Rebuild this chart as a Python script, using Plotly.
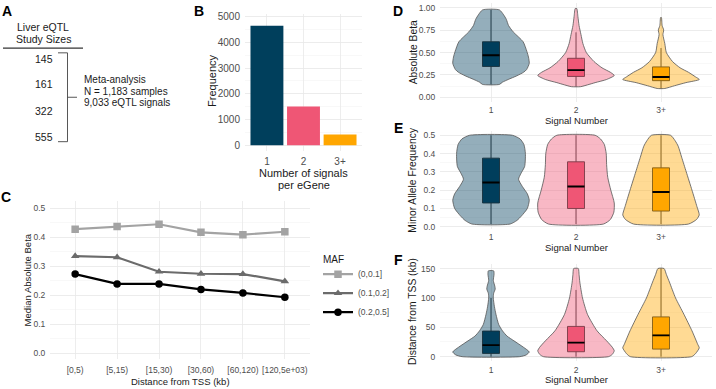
import plotly.graph_objects as go

W, H = 716, 389

# ---------------- data ----------------
# Panel A
study_sizes = ["145", "161", "322", "555"]
meta_lines = ["Meta-analysis", "N = 1,183 samples", "9,033 eQTL signals"]

# Panel B
signal_cats = ["1", "2", "3+"]
egene_counts = [4650, 1510, 410]
group_colors = ["#003f5c", "#ef5675", "#ffa600"]
group_fills = ["rgba(0,63,92,0.42)", "rgba(239,86,117,0.42)", "rgba(255,166,0,0.42)"]

# Panel C
tss_bins = ["[0,5)", "[5,15)", "[15,30)", "[30,60)", "[60,120)", "[120,5e+03)"]
maf_groups = ["(0,0.1]", "(0.1,0.2]", "(0.2,0.5]"]
beta_maf_low = [0.428, 0.437, 0.445, 0.417, 0.409, 0.419]
beta_maf_mid = [0.335, 0.331, 0.281, 0.274, 0.273, 0.248]
beta_maf_high = [0.273, 0.239, 0.239, 0.220, 0.208, 0.193]
maf_colors = ["#a3a3a3", "#6b6b6b", "#000000"]
maf_symbols = ["square", "triangle-up", "circle"]

# Panel D: absolute beta violin profiles (value levels, relative width)
beta_v1_y = [0.145, 0.17, 0.2, 0.24, 0.28, 0.31, 0.38, 0.45, 0.51, 0.62, 0.73, 0.8, 0.87, 0.92, 0.975]
beta_v1_w = [0.22, 0.3, 0.45, 0.67, 0.85, 0.93, 1.0, 0.98, 0.94, 0.84, 0.58, 0.46, 0.4, 0.33, 0.22]
beta_v2_y = [0.12, 0.14, 0.165, 0.2, 0.245, 0.28, 0.33, 0.4, 0.5, 0.6, 0.7, 0.8, 0.9, 0.99]
beta_v2_w = [0.12, 0.3, 0.5, 0.8, 1.0, 0.9, 0.68, 0.47, 0.27, 0.18, 0.13, 0.08, 0.05, 0.02]
beta_v3_y = [0.1, 0.13, 0.165, 0.2, 0.23, 0.28, 0.33, 0.4, 0.5, 0.6, 0.7, 0.75, 0.8, 0.89]
beta_v3_w = [0.1, 0.35, 0.65, 1.0, 0.9, 0.72, 0.5, 0.3, 0.14, 0.1, 0.05, 0.07, 0.03, 0.01]
beta_q1 = [0.345, 0.234, 0.187]
beta_med = [0.47, 0.304, 0.228]
beta_q3 = [0.62, 0.436, 0.34]
beta_lo = [0.145, 0.12, 0.1]
beta_hi = [0.975, 0.725, 0.55]

# Panel E: minor allele frequency
maf_v1_y = [0.015, 0.035, 0.06, 0.1, 0.145, 0.18, 0.22, 0.26, 0.29, 0.33, 0.4, 0.45, 0.48, 0.5]
maf_v1_w = [0.5, 0.68, 0.8, 0.95, 1.0, 0.95, 0.82, 0.72, 0.78, 0.88, 0.9, 0.86, 0.76, 0.56]
maf_v2_y = [0.015, 0.04, 0.08, 0.13, 0.2, 0.27, 0.34, 0.4, 0.45, 0.48, 0.5]
maf_v2_w = [0.72, 0.9, 0.99, 1.0, 0.91, 0.83, 0.8, 0.79, 0.74, 0.64, 0.5]
maf_v3_y = [0.015, 0.04, 0.065, 0.11, 0.2, 0.3, 0.38, 0.44, 0.47, 0.5]
maf_v3_w = [0.72, 0.93, 1.0, 0.94, 0.81, 0.66, 0.54, 0.45, 0.37, 0.25]
maf_q1 = [0.13, 0.10, 0.086]
maf_med = [0.242, 0.22, 0.19]
maf_q3 = [0.375, 0.355, 0.322]
maf_lo = [0.015, 0.015, 0.015]
maf_hi = [0.5, 0.5, 0.5]

# Panel F: distance from TSS (kb)
dist_v1_y = [0, 3, 8, 16, 27, 35, 44, 55, 72, 85, 100, 108, 115, 120, 130, 140, 146]
dist_v1_w = [0.75, 0.92, 1.0, 0.85, 0.6, 0.42, 0.3, 0.2, 0.13, 0.09, 0.06, 0.07, 0.11, 0.1, 0.06, 0.08, 0.07]
dist_v2_y = [0, 4, 10, 16, 27, 44, 72, 100, 127, 140, 150]
dist_v2_w = [0.85, 0.95, 1.0, 0.95, 0.8, 0.55, 0.3, 0.17, 0.1, 0.08, 0.06]
dist_v3_y = [0, 5, 15, 21, 44, 72, 100, 127, 140, 150]
dist_v3_w = [0.8, 0.9, 1.0, 0.96, 0.81, 0.6, 0.38, 0.22, 0.14, 0.08]
dist_q1 = [5.6, 8.4, 12.9]
dist_med = [19.6, 24, 36.4]
dist_q3 = [43.6, 51.5, 67.7]
dist_lo = [0, 0, 0]
dist_hi = [100, 113.6, 150]

# ---------------- helpers ----------------
FONT = "Liberation Sans, Arial, Helvetica, sans-serif"
TICK_C = "#4d4d4d"
TITLE_C = "#1a1a1a"
GRID = "#e9e9e9"
MINOR = "#f3f3f3"
BOX_W = 0.2


def xdom(a, b):
    return [a / W, b / W]


def ydom(top, bottom):
    return [1 - bottom / H, 1 - top / H]


def yrange(v0, p0, v1, p1, top, bottom):
    s = (p1 - p0) / (v1 - v0)
    return [v0 + (bottom - p0) / s, v0 + (top - p0) / s]


def px(x):
    return x / W


def py(y):
    return 1 - y / H


fig = go.Figure()
annotations = []
shapes = []


def text(x, y, s, size=10.5, color=TITLE_C, xanchor="center", bold=False, angle=0):
    annotations.append(dict(
        x=px(x), y=py(y), xref="paper", yref="paper", text=("<b>%s</b>" % s) if bold else s,
        showarrow=False, xanchor=xanchor, yanchor="middle", textangle=angle,
        font=dict(size=size, color=color, family=FONT)))


def hline(x0, x1, y, color="#444", width=0.9):
    shapes.append(dict(type="line", xref="paper", yref="paper", x0=px(x0), x1=px(x1),
                       y0=py(y), y1=py(y), line=dict(color=color, width=width)))


def vline(x, y0, y1, color="#444", width=0.9):
    shapes.append(dict(type="line", xref="paper", yref="paper", x0=px(x), x1=px(x),
                       y0=py(y0), y1=py(y1), line=dict(color=color, width=width)))


# ---------------- Panel A ----------------
text(7, 9, "A", size=14, bold=True, color="#000")
text(43, 25, "Liver eQTL", size=10.5)
text(43, 37.5, "Study Sizes", size=10.5)
hline(3, 83, 46.7, color="#000", width=1)
for s, yy in zip(study_sizes, [57.5, 83.5, 110, 136.5]):
    text(43.5, yy, s, size=10.5)
hline(58, 67.5, 51.5)
hline(58, 67.5, 141.5)
vline(67.5, 51.5, 141.5)
hline(67.5, 77, 96.5)
for s, yy in zip(meta_lines, [78.5, 90.2, 101.9]):
    text(82, yy, s, size=10, xanchor="left")

# ---------------- Panel B ----------------
text(199, 9, "B", size=14, bold=True, color="#000")
fig.add_trace(go.Bar(x=[1, 2, 3], y=egene_counts, marker=dict(color=group_colors, line=dict(width=0)),
                     width=0.9, xaxis="x", yaxis="y", showlegend=False, hoverinfo="skip"))
text(212, 80, "Frequency", size=11, angle=-90)
text(303.5, 173.5, "Number of signals", size=11)
text(303.5, 185.5, "per eGene", size=11)

# ---------------- Panel C ----------------
text(6, 198, "C", size=14, bold=True, color="#000")
for name, vals, col, sym in zip(maf_groups, [beta_maf_low, beta_maf_mid, beta_maf_high], maf_colors, maf_symbols):
    fig.add_trace(go.Scatter(x=tss_bins, y=vals, mode="lines+markers", name=name,
                             line=dict(color=col, width=2.2),
                             marker=dict(color=col, symbol=sym, size=7.5),
                             xaxis="x2", yaxis="y2", hoverinfo="skip"))
text(27, 282, "Median Absolute Beta", size=9.5, angle=-90)
text(180, 384, "Distance from TSS (kb)", size=9.5)
text(321, 261, "MAF", size=10, xanchor="left")


# ---------------- Panels D, E, F ----------------
def violin_panel(xa, ya, profiles, q1, med, q3, lo, hi):
    for i, (vy, vw) in enumerate(profiles):
        c = i + 1
        xs = [c + 0.45 * w for w in vw] + [c - 0.45 * w for w in reversed(vw)]
        ys = list(vy) + list(reversed(vy))
        xs.append(xs[0])
        ys.append(ys[0])
        fig.add_trace(go.Scatter(x=xs, y=ys, mode="lines", fill="toself", fillcolor=group_fills[i],
                                 line=dict(color="#555555", width=0.8, shape="spline", smoothing=0.6),
                                 xaxis=xa, yaxis=ya, showlegend=False, hoverinfo="skip"))
    for i in range(3):
        fig.add_trace(go.Box(x=[i + 1], q1=[q1[i]], median=[med[i]], q3=[q3[i]],
                             lowerfence=[lo[i]], upperfence=[hi[i]], width=BOX_W, whiskerwidth=0,
                             fillcolor=group_colors[i], line=dict(color="#262626", width=0.9),
                             boxpoints=False, xaxis=xa, yaxis=ya, showlegend=False, hoverinfo="skip"))
        # thicker median bar, as in ggplot
        fig.add_trace(go.Scatter(x=[i + 1 - BOX_W / 2, i + 1 + BOX_W / 2], y=[med[i], med[i]],
                                 mode="lines", line=dict(color="#000000", width=1.8),
                                 xaxis=xa, yaxis=ya, showlegend=False, hoverinfo="skip"))


violin_panel("x3", "y3", [(beta_v1_y, beta_v1_w), (beta_v2_y, beta_v2_w), (beta_v3_y, beta_v3_w)],
             beta_q1, beta_med, beta_q3, beta_lo, beta_hi)
violin_panel("x4", "y4", [(maf_v1_y, maf_v1_w), (maf_v2_y, maf_v2_w), (maf_v3_y, maf_v3_w)],
             maf_q1, maf_med, maf_q3, maf_lo, maf_hi)
violin_panel("x5", "y5", [(dist_v1_y, dist_v1_w), (dist_v2_y, dist_v2_w), (dist_v3_y, dist_v3_w)],
             dist_q1, dist_med, dist_q3, dist_lo, dist_hi)

text(398, 9, "D", size=14, bold=True, color="#000")
text(398, 128, "E", size=14, bold=True, color="#000")
text(398, 261, "F", size=14, bold=True, color="#000")
text(413, 51, "Absolute Beta", size=10.3, angle=-90)
text(413, 180, "Minor Allele Frequency", size=10.3, angle=-90)
text(413, 314, "Distance from TSS (kb)", size=10.3, angle=-90)
text(576, 120.5, "Signal Number", size=9.5)
text(576, 248.5, "Signal Number", size=9.5)
text(576, 382, "Signal Number", size=9.5)


# ---------------- axes ----------------
def axis_common(size):
    return dict(showline=False, zeroline=False, showgrid=True, gridcolor=GRID, gridwidth=0.8,
                tickfont=dict(size=size, color=TICK_C, family=FONT), fixedrange=True)


def xcat_axis(dom, size, pad):
    d = axis_common(size)
    d.update(domain=dom, range=[0.4, 3.6], tickmode="array", tickvals=[1, 2, 3], ticktext=signal_cats,
             ticks="outside", ticklen=pad, tickcolor="rgba(0,0,0,0)")
    return d


def y_axis(dom, rng, vals, minor_dtick, size, fmt=None, anchor=None):
    d = axis_common(size)
    d.update(domain=dom, range=rng, tickmode="array", tickvals=vals,
             minor=dict(showgrid=True, gridcolor=MINOR, gridwidth=0.6, dtick=minor_dtick, tick0=0),
             ticks="outside", ticklen=2, tickcolor="rgba(0,0,0,0)")
    if fmt:
        d["tickformat"] = fmt
    if anchor:
        d["anchor"] = anchor
    return d


DX = xdom(440, 712)

layout = dict(
    width=W, height=H, margin=dict(l=0, r=0, t=0, b=0),
    paper_bgcolor="white", plot_bgcolor="white",
    font=dict(family=FONT),
    annotations=annotations, shapes=shapes,
    xaxis=xcat_axis(xdom(245, 362), 10, 1),
    yaxis=y_axis(ydom(12, 151), yrange(0, 145, 5000, 15, 12, 151), [0, 1000, 2000, 3000, 4000, 5000],
                 500, 10, anchor="x"),
    xaxis2=dict(axis_common(8.5), domain=xdom(50, 310), type="category", categoryorder="array",
                categoryarray=tss_bins, range=[-0.6, 5.6], anchor="y2",
                ticks="outside", ticklen=2, tickcolor="rgba(0,0,0,0)"),
    yaxis2=y_axis(ydom(202, 362), yrange(0, 355.7, 0.5, 209, 202, 362), [0, 0.1, 0.2, 0.3, 0.4, 0.5],
                  0.05, 8.5, fmt=".1f", anchor="x2"),
    xaxis3=dict(xcat_axis(DX, 8.5, 0), anchor="y3"),
    yaxis3=y_axis(ydom(1, 101), yrange(0, 96.7, 1, 5.7, 1, 101), [0, 0.25, 0.5, 0.75, 1.0],
                  0.125, 8.5, fmt=".2f", anchor="x3"),
    xaxis4=dict(xcat_axis(DX, 8.5, 0), anchor="y4"),
    yaxis4=y_axis(ydom(131, 230), yrange(0, 227.7, 0.5, 135, 131, 230), [0, 0.1, 0.2, 0.3, 0.4, 0.5],
                  0.05, 8.5, fmt=".1f", anchor="x4"),
    xaxis5=dict(xcat_axis(DX, 8.5, 0), anchor="y5"),
    yaxis5=y_axis(ydom(265, 364), yrange(0, 359.3, 150, 270, 265, 364), [0, 50, 100, 150],
                  25, 8.5, anchor="x5"),
    legend=dict(x=px(318), y=py(261), xanchor="left", yanchor="top", bgcolor="rgba(0,0,0,0)",
                font=dict(size=8.5, color=TICK_C, family=FONT), tracegroupgap=0, itemwidth=30),
)
fig.update_layout(**layout)
fig.write_html("out.html", config={"displayModeBar": False, "staticPlot": True},
               post_script="document.body.style.margin='0';document.body.style.overflow='hidden';")
